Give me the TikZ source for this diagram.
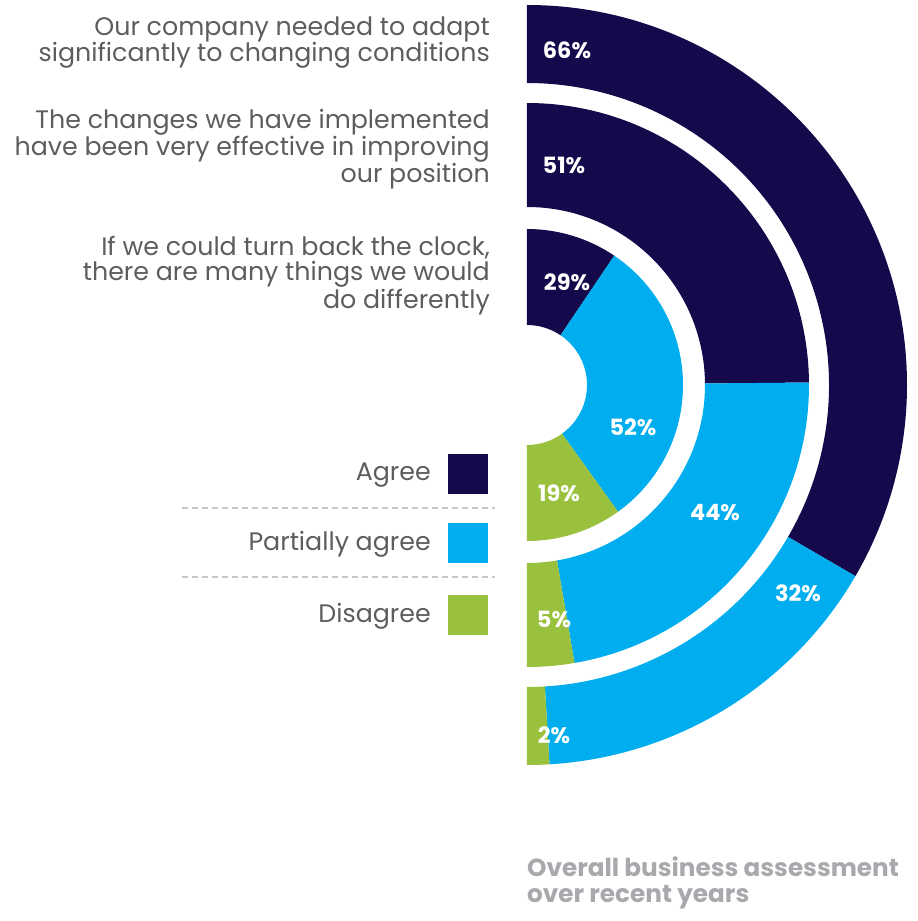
\documentclass[tikz,border=0pt]{standalone}
\usepackage{fontspec}
\setmainfont{Poppins}
\usepackage{xcolor}
\usepackage{tikz}

\definecolor{agreecol}{RGB}{21,9,75}
\definecolor{partialcol}{RGB}{0,174,239}
\definecolor{disagreecol}{RGB}{154,193,62}
\definecolor{textgray}{RGB}{92,93,95}
\definecolor{footgray}{RGB}{167,169,172}
\definecolor{linegray}{RGB}{200,200,200}

\begin{document}
\begin{tikzpicture}[x=1bp,y=1bp,
    question/.style={anchor=base east, align=right, inner sep=0pt, text=textgray, font=\fontsize{25.4}{25.3}\selectfont},
    legendtext/.style={anchor=base east, inner sep=0pt, text=textgray, font=\fontsize{25.4}{26}\selectfont},
    pct/.style={inner sep=0pt, text=white, font=\bfseries\fontsize{22.5}{24}\selectfont},
    swatch/.style={inner sep=0pt, minimum size=40bp},
    legendline/.style={linegray, line width=1.2bp, dash pattern=on 6bp off 4bp}]
        % Overall box
        \useasboundingbox (-527,-536) rectangle (391,385);

        % Outer ring
        \fill[agreecol] (90:380) arc[start angle=90, end angle=-30.2, radius=380] -- (-30.2:302) arc[start angle=-30.2, end angle=90, radius=302] -- cycle;
        \fill[partialcol] (-30.2:380) arc[start angle=-30.2, end angle=-86.6, radius=380] -- (-86.6:302) arc[start angle=-86.6, end angle=-30.2, radius=302] -- cycle;
        \fill[disagreecol] (-86.6:380) arc[start angle=-86.6, end angle=-90, radius=380] -- (-90:302) arc[start angle=-90, end angle=-86.6, radius=302] -- cycle;

        % Middle ring
        \fill[agreecol] (90:282) arc[start angle=90, end angle=0.5, radius=282] -- (0.5:178) arc[start angle=0.5, end angle=90, radius=178] -- cycle;
        \fill[partialcol] (0.5:282) arc[start angle=0.5, end angle=-80.3, radius=282] -- (-80.3:178) arc[start angle=-80.3, end angle=0.5, radius=178] -- cycle;
        \fill[disagreecol] (-80.3:282) arc[start angle=-80.3, end angle=-90, radius=282] -- (-90:178) arc[start angle=-90, end angle=-80.3, radius=178] -- cycle;

        % Inner ring
        \fill[agreecol] (90:156) arc[start angle=90, end angle=56, radius=156] -- (56:60) arc[start angle=56, end angle=90, radius=60] -- cycle;
        \fill[partialcol] (56:156) arc[start angle=56, end angle=-54.3, radius=156] -- (-54.3:60) arc[start angle=-54.3, end angle=56, radius=60] -- cycle;
        \fill[disagreecol] (-54.3:156) arc[start angle=-54.3, end angle=-90, radius=156] -- (-90:60) arc[start angle=-90, end angle=-54.3, radius=60] -- cycle;

        % Values
        \node[pct] (outeragree) at (40,335) {66\%};
        \node[pct] (outerpartial) at (271,-208) {32\%};
        \node[pct] (outerdisagree) at (27,-350) {2\%};
        \node[pct] (midagree) at (37,220) {51\%};
        \node[pct] (midpartial) at (188,-128) {44\%};
        \node[pct] (middisagree) at (27,-234) {5\%};
        \node[pct] (inneragree) at (40,103) {29\%};
        \node[pct] (innerpartial) at (106,-42) {52\%};
        \node[pct] (innerdisagree) at (32,-108) {19\%};

        % Statements
        \node[question] (adapt) at (-37,323) {Our company needed to adapt\\significantly to changing conditions};
        \node[question] (effective) at (-37,202) {The changes we have implemented\\have been very effective in improving\\our position};
        \node[question] (clock) at (-37,77) {If we could turn back the clock,\\there are many things we would\\do differently};

        % Legend
        \node[legendtext] (agreelabel) at (-96,-95) {Agree};
        \node[swatch, fill=agreecol] (agreebox) at (-59,-89) {};
        \draw[legendline] (-345,-123) -- (-32,-123);
        \node[legendtext] (partiallabel) at (-96,-165) {Partially agree};
        \node[swatch, fill=partialcol] (partialbox) at (-59,-158) {};
        \draw[legendline] (-345,-192) -- (-32,-192);
        \node[legendtext] (disagreelabel) at (-96,-237) {Disagree};
        \node[swatch, fill=disagreecol] (disagreebox) at (-59,-230) {};

        % Title
        \node[anchor=base west, align=left, inner sep=0pt, text=footgray, font=\bfseries\fontsize{24.8}{26}\selectfont] (title) at (0,-517) {Overall business assessment\\over recent years};
\end{tikzpicture}
\end{document}
